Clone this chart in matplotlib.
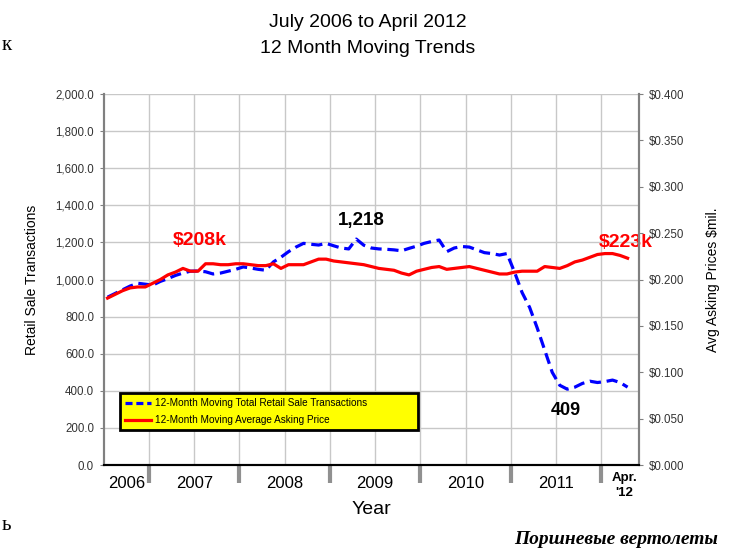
import matplotlib.pyplot as plt
import matplotlib.transforms as mtransforms
from matplotlib.lines import Line2D

plt.rcParams['font.family'] = ['Liberation Sans', 'DejaVu Sans']

# months since July 2006 (0 = Jul 2006 ... 69 = Apr 2012)
months = list(range(70))

transactions = [905, 925, 945, 965, 980, 975, 970, 990, 1005, 1022,
                1035, 1045, 1046, 1042, 1030, 1035, 1045, 1055, 1068, 1062,
                1055, 1050, 1095, 1120, 1150, 1175, 1195, 1190, 1186, 1195,
                1182, 1170, 1165, 1218, 1185, 1170, 1165, 1163, 1160, 1155,
                1168, 1180, 1195, 1205, 1213, 1150, 1170, 1178, 1175, 1160,
                1145, 1140, 1132, 1140, 1040, 930, 850, 740, 620, 500,
                430, 409, 420, 440, 452, 445, 450, 458, 445, 420]

asking_price = [0.180, 0.184, 0.188, 0.191, 0.192, 0.192, 0.196, 0.200, 0.205, 0.208,
                0.212, 0.209, 0.209, 0.217, 0.217, 0.216, 0.216, 0.217, 0.217, 0.216,
                0.215, 0.215, 0.217, 0.212, 0.216, 0.216, 0.216, 0.219, 0.222, 0.222,
                0.220, 0.219, 0.218, 0.217, 0.216, 0.214, 0.212, 0.211, 0.210, 0.207,
                0.205, 0.209, 0.211, 0.213, 0.214, 0.211, 0.212, 0.213, 0.214, 0.212,
                0.210, 0.208, 0.206, 0.206, 0.208, 0.209, 0.209, 0.209, 0.214, 0.213,
                0.212, 0.215, 0.219, 0.221, 0.224, 0.227, 0.228, 0.228, 0.226, 0.223]

year_labels = ['2006', '2007', '2008', '2009', '2010', '2011', "Apr.\n'12"]
year_centers = [2.5, 11.5, 23.5, 35.5, 47.5, 59.5, 68.6]
year_bounds = [5.5, 17.5, 29.5, 41.5, 53.5, 65.5]
half_years = [11.5, 23.5, 35.5, 47.5, 59.5]

fig = plt.figure(figsize=(7.31, 5.53), dpi=100)
ax = fig.add_axes([0.142, 0.159, 0.732, 0.671])
ax2 = ax.twinx()

grid_c = '#c8c8c8'
ax.plot(months, transactions, color='#0000ff', lw=2.3, dashes=(3.5, 1.8),
        label='12-Month Moving Total Retail Sale Transactions', zorder=3)
ax2.plot(months, asking_price, color='#ff0000', lw=2.3,
         label='12-Month Moving Average Asking Price', zorder=3)

ax.set_xlim(-0.5, 70.5)
ax.set_ylim(0, 2000)
ax2.set_ylim(0, 0.4)

ax.set_yticks(range(0, 2001, 200))
ax.set_yticklabels(['{:,.1f}'.format(v) for v in range(0, 2001, 200)])
ax2.set_yticks([i * 0.05 for i in range(9)])
ax2.set_yticklabels(['${:.3f}'.format(i * 0.05) for i in range(9)])

ax.set_xticks(year_bounds)
ax.set_xticks(half_years, minor=True)
ax.tick_params(axis='x', which='major', length=13, width=3, color='#909090',
               labelbottom=False)
ax.tick_params(axis='x', which='minor', length=0, labelbottom=False)
ax.grid(True, which='both', axis='x', color=grid_c, lw=1)
ax.grid(True, which='major', axis='y', color=grid_c, lw=1)
ax.set_axisbelow(True)

for a in (ax, ax2):
    a.tick_params(axis='y', labelsize=8.3, length=3, color='#808080',
                  labelcolor='#333333', pad=4)
    a.spines['top'].set_visible(False)
    a.spines['left'].set_color('#808080')
    a.spines['right'].set_color('#808080')
    a.spines['left'].set_linewidth(1.5)
    a.spines['right'].set_linewidth(1.5)
    a.spines['bottom'].set_color('black')
    a.spines['bottom'].set_linewidth(1.5)

trans = mtransforms.blended_transform_factory(ax.transData, ax.transAxes)
for x, lab in zip(year_centers, year_labels):
    if lab.startswith('Apr'):
        ax.text(x, -0.055, lab, transform=trans, ha='center', va='center',
                fontsize=9.5, fontweight='bold', linespacing=1.35)
    else:
        ax.text(x, -0.05, lab, transform=trans, ha='center', va='center',
                fontsize=12)

ax.set_xlabel('Year', fontsize=14, labelpad=13)
ax.set_ylabel('Retail Sale Transactions', fontsize=10, labelpad=12)
ax2.set_ylabel('Avg Asking Prices $mil.', fontsize=10, labelpad=16)

ax.text(12.2, 1213, '$208k', color='#ff0000', fontsize=14, fontweight='bold',
        ha='center', va='center')
ax.text(33.7, 1318, '1,218', color='black', fontsize=13.5, fontweight='bold',
        ha='center', va='center')
ax.text(68.8, 1200, '$223k', color='#ff0000', fontsize=14, fontweight='bold',
        ha='center', va='center')
ax.text(60.8, 296, '409', color='black', fontsize=13, fontweight='bold',
        ha='center', va='center')

handles = [Line2D([], [], color='#0000ff', lw=2.3, dashes=(2.2, 1.2)),
           Line2D([], [], color='#ff0000', lw=2.3)]
labels = ['12-Month Moving Total Retail Sale Transactions',
          '12-Month Moving Average Asking Price']
leg = ax2.legend(handles, labels, loc='lower left',
                 bbox_to_anchor=(0.03, 0.094, 0.557, 0.116), mode='expand',
                 fontsize=7.2, handlelength=2.6, handletextpad=0.4,
                 borderpad=0.5, labelspacing=0.7, fancybox=False,
                 facecolor='#ffff00', edgecolor='black', framealpha=1,
                 borderaxespad=0)
leg.get_frame().set_linewidth(2)

fig.text(0.503, 0.960, 'July 2006 to April 2012', ha='center', va='center',
         fontsize=14)
fig.text(0.503, 0.912, '12 Month Moving Trends', ha='center', va='center',
         fontsize=14)
fig.text(0.982, 0.024, 'Поршневые вертолеты', ha='right', va='center',
         fontsize=14, family=['Liberation Serif', 'DejaVu Serif'],
         fontweight='bold', style='italic')
fig.text(0.002, 0.918, 'к', ha='left', va='center', fontsize=15,
         family=['Liberation Serif', 'DejaVu Serif'])
fig.text(0.002, 0.05, 'ь', ha='left', va='center', fontsize=15,
         family=['Liberation Serif', 'DejaVu Serif'])

fig.savefig('out.png', dpi=100)
